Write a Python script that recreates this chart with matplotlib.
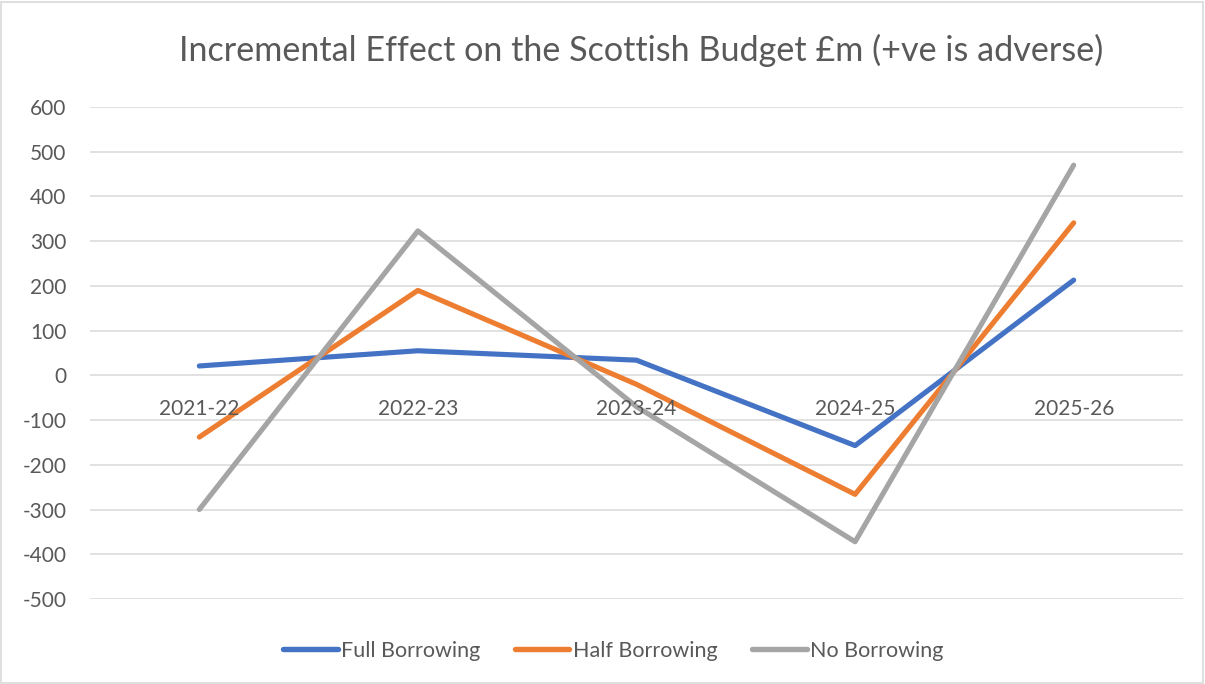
import matplotlib
matplotlib.use("Agg")
import matplotlib.pyplot as plt
from matplotlib.patches import Rectangle

plt.rcParams['font.family'] = ['Lato', 'DejaVu Sans']

years = ["2021-22", "2022-23", "2023-24", "2024-25", "2025-26"]
full_borrowing = [21, 55, 34, -157, 213]
half_borrowing = [-138, 190, -20, -266, 341]
no_borrowing = [-300, 323, -70, -372, 470]
y_ticks = list(range(-500, 601, 100))

series = [
    ("Full Borrowing", full_borrowing, "#4472C4"),
    ("Half Borrowing", half_borrowing, "#ED7D31"),
    ("No Borrowing", no_borrowing, "#A5A5A5"),
]

fig = plt.figure(figsize=(12.05, 6.84), dpi=100)
ax = fig.add_axes([90 / 1205, 1 - 599 / 684, (1183 - 90) / 1205, (599 - 107) / 684])

text_color = "#595959"
grid_color = "#D9D9D9"

for name, vals, col in series:
    ax.plot(range(len(years)), vals, color=col, lw=3.7, label=name,
            solid_capstyle="round", solid_joinstyle="round", zorder=3)

ax.set_xlim(-0.5, len(years) - 0.5)
ax.set_ylim(-500, 600)
ax.set_yticks(y_ticks)
ax.set_yticklabels([str(v) for v in y_ticks], fontsize=15, color=text_color)
ax.tick_params(axis="y", length=0, pad=17)
ax.set_xticks([])
ax.yaxis.grid(True, color=grid_color, lw=1.1)
ax.set_axisbelow(True)
for s in ax.spines.values():
    s.set_visible(False)

# category labels sit just below the zero line
for i, yr in enumerate(years):
    ax.annotate(yr, xy=(i, 0), xytext=(0, -24), textcoords="offset points",
                ha="center", va="center", fontsize=15, color=text_color)

fig.text(641 / 1205, 1 - 50 / 684, "Incremental Effect on the Scottish Budget £m (+ve is adverse)",
         ha="center", va="center", fontsize=24.6, color=text_color)

leg = fig.legend(loc="center", bbox_to_anchor=(613 / 1205, 1 - 651 / 684), ncol=3,
                 frameon=False, fontsize=15.5, handlelength=2.55, handletextpad=0.15,
                 columnspacing=1.6)
for t in leg.get_texts():
    t.set_color(text_color)
for h in leg.get_lines():
    h.set_linewidth(3.9)
    h.set_solid_capstyle("round")

fig.patches.append(Rectangle((0.001, 0.002), 0.997, 0.995, transform=fig.transFigure,
                             fill=False, edgecolor="#D9D9D9", lw=1.2))

fig.savefig("out.png", dpi=100)
